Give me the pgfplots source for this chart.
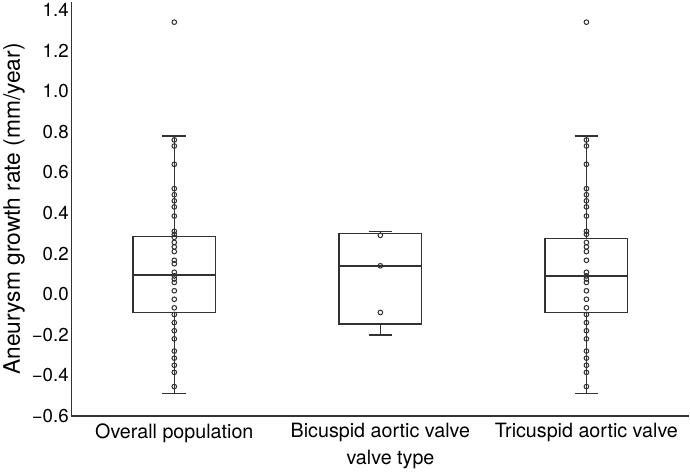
\documentclass[border=0pt]{standalone}
\usepackage{fontspec}
\setmainfont{TeX Gyre Heros}
\usepackage{pgfplots}
\pgfplotsset{compat=1.18}
\usepgfplotslibrary{statistics}
\definecolor{ink}{RGB}{50,50,50}

\begin{document}
\begin{tikzpicture}
\begin{axis}[
  width=612pt, height=410pt, scale only axis,
  xmin=-0.5, xmax=2.5, ymin=-0.6, ymax=1.44,
  axis x line=bottom, axis y line=left,
  axis line style={-, line width=1.1pt, ink},
  major tick length=0pt,
  xtick={0,1,2},
  xticklabels={Overall population, Bicuspid aortic valve, Tricuspid aortic valve},
  ytick={-0.6,-0.4,-0.2,0,0.2,0.4,0.6,0.8,1.0,1.2,1.4},
  yticklabels={−0.6,−0.4,−0.2,0.0,0.2,0.4,0.6,0.8,1.0,1.2,1.4},
  yticklabel style={font=\fontsize{18.5}{22}\selectfont, xshift=1pt},
  xticklabel style={font=\fontsize{19.5}{23}\selectfont, yshift=-4pt},
  xlabel={valve type}, ylabel={Aneurysm growth rate (mm/year)},
  xlabel style={font=\fontsize{19.5}{23}\selectfont, yshift=-1pt, xshift=10pt},
  ylabel style={font=\fontsize{22.5}{26}\selectfont},
  clip=false,
  boxplot/draw direction=y,
  boxplot/box extend=0.4,
  boxplot/whisker extend=0.115,
]
% boxes
\addplot[boxplot prepared={draw position=0, lower whisker=-0.49,
  lower quartile=-0.09, median=0.095, upper quartile=0.285, upper whisker=0.78},
  draw=ink, line width=1.5pt, fill=white, mark=none] coordinates {};
\addplot[boxplot prepared={draw position=1, lower whisker=-0.20,
  lower quartile=-0.147, median=0.14, upper quartile=0.30, upper whisker=0.31},
  draw=ink, line width=1.5pt, fill=white, mark=none] coordinates {};
\addplot[boxplot prepared={draw position=2, lower whisker=-0.49,
  lower quartile=-0.09, median=0.09, upper quartile=0.275, upper whisker=0.78},
  draw=ink, line width=1.5pt, fill=white, mark=none] coordinates {};
% individual values
\addplot[only marks, mark=o, mark size=2.3pt, ink, mark options={line width=1pt}]
  coordinates {
  (0,1.34)(0,0.76)(0,0.73)(0,0.64)(0,0.52)(0,0.49)(0,0.46)(0,0.43)(0,0.385)
  (0,0.31)(0,0.295)(0,0.28)(0,0.255)(0,0.233)(0,0.21)(0,0.167)(0,0.15)
  (0,0.108)(0,0.09)(0,0.075)(0,0.058)(0,0.017)(0,-0.025)(0,-0.067)(0,-0.1)
  (0,-0.14)(0,-0.18)(0,-0.22)(0,-0.28)(0,-0.315)(0,-0.35)(0,-0.385)(0,-0.455)
  };
\addplot[only marks, mark=o, mark size=2.3pt, ink, mark options={line width=1pt}]
  coordinates {(1,0.29)(1,0.14)(1,-0.09)};
\addplot[only marks, mark=o, mark size=2.3pt, ink, mark options={line width=1pt}]
  coordinates {
  (2,1.34)(2,0.76)(2,0.73)(2,0.64)(2,0.52)(2,0.49)(2,0.46)(2,0.43)(2,0.385)
  (2,0.31)(2,0.295)(2,0.255)(2,0.233)(2,0.21)(2,0.167)
  (2,0.108)(2,0.09)(2,0.075)(2,0.058)(2,0.017)(2,-0.025)(2,-0.067)(2,-0.1)
  (2,-0.14)(2,-0.18)(2,-0.22)(2,-0.28)(2,-0.315)(2,-0.35)(2,-0.385)(2,-0.455)
  };
\end{axis}
\end{tikzpicture}
\end{document}
